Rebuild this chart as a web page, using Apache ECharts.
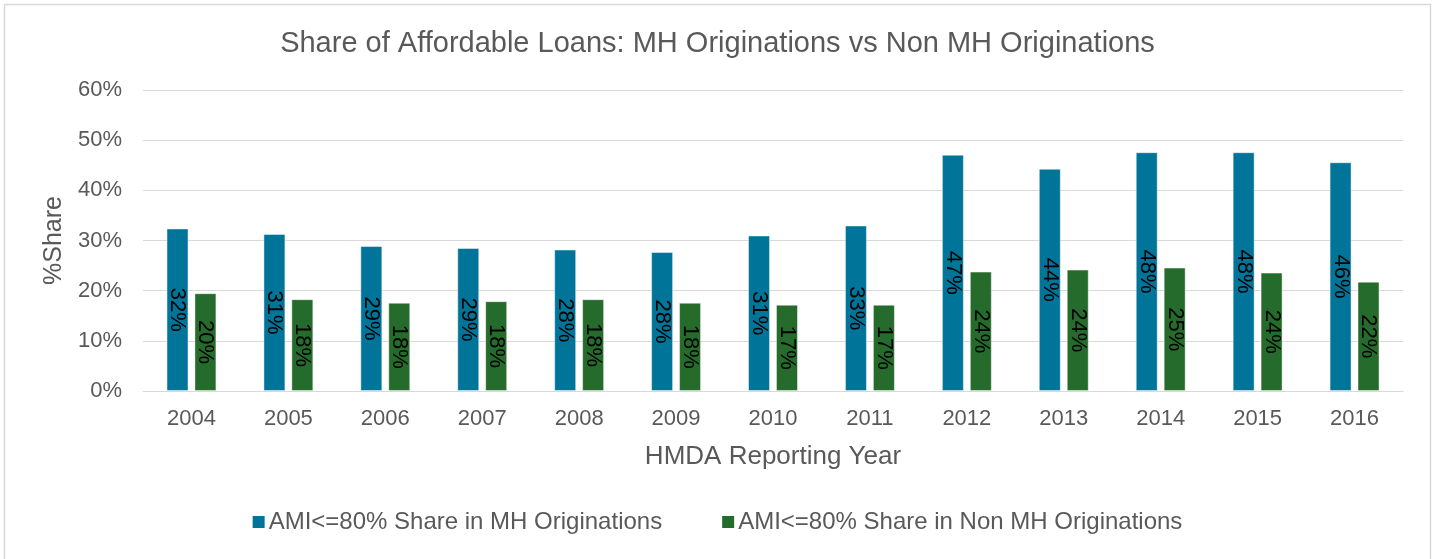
<!DOCTYPE html>
<html>
<head>
<meta charset="utf-8">
<script src="https://cdn.jsdelivr.net/npm/echarts@6/dist/echarts.min.js"></script>
<style>
html,body{margin:0;padding:0;background:#fff;}
#chart{width:1435px;height:559px;}
</style>
</head>
<body>
<div id="chart"></div>
<script>
const titleText = 'Share of Affordable Loans: MH Originations vs Non MH Originations';
const years = ['2004','2005','2006','2007','2008','2009','2010','2011','2012','2013','2014','2015','2016'];
const seriesNames = ['AMI<=80% Share in MH Originations', 'AMI<=80% Share in Non MH Originations'];
const mhShare = [32.4, 31.3, 28.9, 28.5, 28.2, 27.7, 31.0, 33.0, 47.1, 44.3, 47.6, 47.6, 45.6];
const nonMhShare = [19.5, 18.3, 17.6, 17.9, 18.3, 17.6, 17.2, 17.2, 23.8, 24.2, 24.6, 23.6, 21.8];
const yTicks = [0, 10, 20, 30, 40, 50, 60];

const chart = echarts.init(document.getElementById('chart'));
const font = 'Liberation Sans, Arial, sans-serif';
const grey = '#595959';
const labelCfg = {
  show: true,
  position: 'inside',
  rotate: -90,
  color: '#000',
  fontFamily: font,
  fontSize: 22,
  formatter: p => Math.round(p.value) + '%'
};
chart.setOption({
  animation: false,
  backgroundColor: '#fff',
  title: {
    text: titleText,
    left: 'center',
    top: 24,
    textStyle: {fontFamily: font, fontSize: 29, fontWeight: 'normal', color: grey}
  },
  graphic: [{
    type: 'rect',
    shape: {x: 4.5, y: 4.5, width: 1426, height: 560},
    style: {fill: 'none', stroke: '#d9d9d9', lineWidth: 1.5},
    silent: true
  }],
  legend: {
    data: seriesNames,
    bottom: 20,
    left: 'center',
    itemWidth: 12,
    itemHeight: 12,
    itemGap: 60,
    itemStyle: {borderWidth: 0},
    icon: 'rect',
    textStyle: {fontFamily: font, fontSize: 24, color: grey, padding: [0,0,0,-1]}
  },
  grid: {left: 143, right: 32, top: 90, bottom: 168, containLabel: false},
  xAxis: {
    type: 'category',
    data: years,
    name: 'HMDA Reporting Year',
    nameLocation: 'middle',
    nameGap: 53,
    nameTextStyle: {fontFamily: font, fontSize: 26, color: grey},
    axisLine: {show: true, lineStyle: {color: '#d9d9d9', width: 1}},
    axisTick: {show: false},
    axisLabel: {fontFamily: font, fontSize: 22, color: grey, margin: 17}
  },
  yAxis: {
    type: 'value',
    min: yTicks[0],
    max: yTicks[yTicks.length - 1],
    interval: yTicks[1] - yTicks[0],
    name: '%Share',
    nameLocation: 'middle',
    nameGap: 76,
    nameTextStyle: {fontFamily: font, fontSize: 25, color: grey},
    axisLine: {show: false},
    axisTick: {show: false},
    splitLine: {lineStyle: {color: '#d9d9d9', width: 1}},
    axisLabel: {fontFamily: font, fontSize: 22, color: grey, margin: 21, formatter: '{value}%'}
  },
  series: [
    {
      name: seriesNames[0],
      type: 'bar',
      data: mhShare,
      barWidth: 22,
      barGap: '27%',
      itemStyle: {color: '#007599', borderColor: 'rgba(255,255,255,0.45)', borderWidth: 1},
      label: labelCfg
    },
    {
      name: seriesNames[1],
      type: 'bar',
      data: nonMhShare,
      barWidth: 22,
      itemStyle: {color: '#256B2B', borderColor: 'rgba(255,255,255,0.45)', borderWidth: 1},
      label: labelCfg
    }
  ]
});
</script>
</body>
</html>
